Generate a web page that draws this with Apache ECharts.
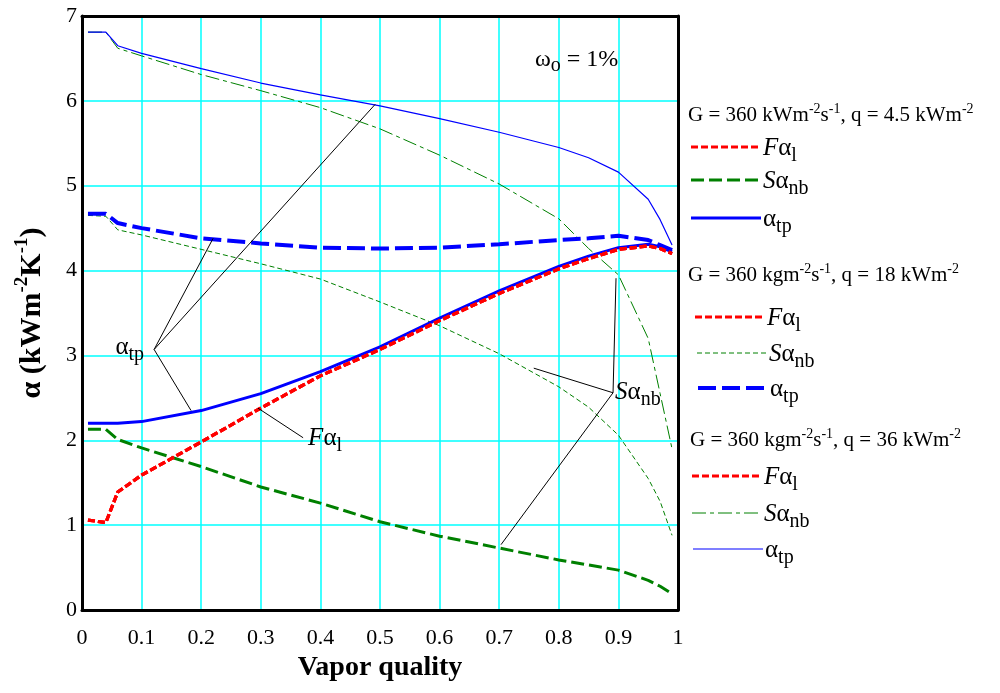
<!DOCTYPE html>
<html><head><meta charset="utf-8">
<script src="https://cdn.jsdelivr.net/npm/echarts@6/dist/echarts.min.js"></script>
<style>html,body{margin:0;padding:0;background:#fff}#c{width:1000px;height:693px}</style>
</head><body><div id="c"></div>
<script>
// ---------------- data ----------------
const quality = [0.01, 0.04, 0.06, 0.1, 0.2, 0.3, 0.4, 0.5, 0.6, 0.7, 0.8, 0.85, 0.9, 0.95, 0.97, 0.99];
// F*alpha_l (same for all three heat fluxes)
const F_al   = [1.06, 1.03, 1.39, 1.59, 1.98, 2.38, 2.76, 3.07, 3.41, 3.73, 4.02, 4.14, 4.25, 4.29, 4.26, 4.20];
// q = 4.5 kW/m2
const S_nb_45 = [2.13, 2.13, 2.01, 1.91, 1.69, 1.45, 1.26, 1.04, 0.87, 0.73, 0.59, 0.53, 0.47, 0.35, 0.28, 0.19];
const a_tp_45 = [2.20, 2.20, 2.20, 2.22, 2.35, 2.55, 2.81, 3.10, 3.44, 3.76, 4.05, 4.17, 4.27, 4.31, 4.28, 4.22];
// q = 18 kW/m2
const S_nb_18 = [4.65, 4.64, 4.48, 4.42, 4.25, 4.08, 3.90, 3.63, 3.35, 3.02, 2.63, 2.39, 2.06, 1.55, 1.28, 0.88];
const a_tp_18 = [4.67, 4.67, 4.56, 4.50, 4.38, 4.32, 4.27, 4.26, 4.27, 4.31, 4.36, 4.38, 4.41, 4.36, 4.30, 4.24];
// q = 36 kW/m2
const S_nb_36 = [6.81, 6.81, 6.62, 6.53, 6.31, 6.12, 5.92, 5.67, 5.36, 5.02, 4.61, 4.26, 3.95, 3.20, 2.55, 1.90];
const a_tp_36 = [6.81, 6.81, 6.65, 6.56, 6.38, 6.21, 6.07, 5.94, 5.79, 5.63, 5.45, 5.33, 5.16, 4.84, 4.60, 4.30];

// annotation leader lines (data coordinates)
const tpOrigin = [0.121, 3.07];
const tpTargets = [[0.22, 4.38], [0.492, 5.96], [0.183, 2.35]];
const fFrom = [0.295, 2.38], fTo = [0.371, 2.03];
const sOrigin = [0.891, 2.56];
const sTargets = [[0.758, 2.85], [0.896, 3.91], [0.703, 0.77]];
const omegaPos = [0.76, 6.46];

// --------------- styles ---------------
const SERIF = '"Liberation Serif","Times New Roman",serif';
const RED = '#ff0000', GREEN = '#008000', BLUE = '#0000ff';
const richLbl = {
  i: {fontFamily: SERIF, fontSize: 25, fontStyle: 'italic', color: '#000', lineHeight: 30, verticalAlign: 'top'},
  m: {fontFamily: SERIF, fontSize: 25, color: '#000', lineHeight: 30, verticalAlign: 'top'},
  s: {fontFamily: SERIF, fontSize: 20, color: '#000', lineHeight: 23, verticalAlign: 'bottom'},
  w: {fontFamily: SERIF, fontSize: 24, color: '#000', lineHeight: 28, verticalAlign: 'top'},
  ws: {fontFamily: SERIF, fontSize: 20, color: '#000', lineHeight: 12, verticalAlign: 'bottom'}
};
const richHead = {
  h: {fontFamily: SERIF, fontSize: 21, color: '#000', lineHeight: 24, verticalAlign: 'bottom'},
  u: {fontFamily: SERIF, fontSize: 14, color: '#000', lineHeight: 20, verticalAlign: 'top'}
};
const TXT_F = '{i|F}{m|α}{s|l}';
const TXT_S = '{i|S}{m|α}{s|nb}';
const TXT_A = '{m|α}{s|tp}';

const styleF   = {color: RED, width: 3.2, type: [7, 3]};
const styleS45 = {color: GREEN, width: 3, type: [13, 5]};
const styleA45 = {color: BLUE, width: 3, type: 'solid'};
const styleS18 = {color: GREEN, width: 1, type: [5, 3]};
const styleA18 = {color: BLUE, width: 4, type: [18, 6]};
const styleS36 = {color: GREEN, width: 1, type: [14, 4, 4, 4]};
const styleA36 = {color: BLUE, width: 1.2, type: 'solid'};

function pts(ys) { return quality.map((x, i) => [x, ys[i]]); }
function lineSeries(name, ys, ls) {
  return {name, type: 'line', data: pts(ys), showSymbol: false, symbol: 'none',
    lineStyle: {color: ls.color, width: ls.width, type: ls.type}, itemStyle: {color: ls.color},
    animation: false, silent: true, z: 3};
}

const series = [
  lineSeries('S36', S_nb_36, styleS36),
  lineSeries('S18', S_nb_18, styleS18),
  lineSeries('S45', S_nb_45, styleS45),
  lineSeries('A36', a_tp_36, styleA36),
  lineSeries('A18', a_tp_18, styleA18),
  lineSeries('A45', a_tp_45, styleA45),
  lineSeries('F45', F_al, styleF),
  lineSeries('F18', F_al, styleF),
  lineSeries('F36', F_al, styleF)
];

// annotations
const mlData = [];
tpTargets.forEach(t => mlData.push([{coord: tpOrigin}, {coord: t}]));
mlData.push([{coord: fFrom}, {coord: fTo}]);
sTargets.forEach(t => mlData.push([{coord: sOrigin}, {coord: t}]));
series.push({
  name: 'annot', type: 'line', data: [], silent: true, animation: false, z: 4,
  markLine: {silent: true, animation: false, symbol: ['none', 'none'],
    lineStyle: {color: '#000', width: 1, type: 'solid'}, label: {show: false}, data: mlData},
  markPoint: {silent: true, animation: false, symbol: 'circle', symbolSize: 0,
    label: {show: true, rich: richLbl},
    data: [
      {coord: tpOrigin, label: {formatter: TXT_A, position: 'left', distance: 10}},
      {coord: fTo, label: {formatter: TXT_F, position: 'right', distance: 5, offset: [0, 3]}},
      {coord: sOrigin, label: {formatter: TXT_S, position: 'right', distance: 2, offset: [0, 2]}},
      {coord: omegaPos, label: {formatter: '{w|ω}{ws|o}{w| = 1%}', position: 'right', distance: 0}}
    ]}
});

// legend (graphic)
const legendGroups = [
  {title: '{h|G = 360 kWm}{u|-2}{h|s}{u|-1}{h|, q = 4.5 kWm}{u|-2}', tx: 688, ty: 114,
   rows: [{ls: styleF, txt: TXT_F, y: 147, x: 691}, {ls: styleS45, txt: TXT_S, y: 180, x: 691}, {ls: styleA45, txt: TXT_A, y: 218, x: 691}]},
  {title: '{h|G = 360 kgm}{u|-2}{h|s}{u|-1}{h|, q = 18 kWm}{u|-2}', tx: 688, ty: 274,
   rows: [{ls: styleF, txt: TXT_F, y: 317, x: 695}, {ls: styleS18, txt: TXT_S, y: 353, x: 697}, {ls: styleA18, txt: TXT_A, y: 388, x: 698}]},
  {title: '{h|G = 360 kgm}{u|-2}{h|s}{u|-1}{h|, q = 36 kWm}{u|-2}', tx: 690, ty: 439,
   rows: [{ls: styleF, txt: TXT_F, y: 476, x: 692}, {ls: styleS36, txt: TXT_S, y: 513, x: 692}, {ls: styleA36, txt: TXT_A, y: 549, x: 693}]}
];
const graphics = [];
legendGroups.forEach(g => {
  graphics.push({type: 'text', x: g.tx, y: g.ty, silent: true,
    style: {text: g.title, rich: richHead, verticalAlign: 'middle', align: 'left'}});
  g.rows.forEach(r => {
    graphics.push({type: 'line', silent: true, shape: {x1: r.x, y1: r.y, x2: r.x + 70, y2: r.y},
      style: {stroke: r.ls.color, lineWidth: r.ls.width, lineDash: Array.isArray(r.ls.type) ? r.ls.type : null}});
    graphics.push({type: 'text', x: r.x + 72, y: r.y + 4, silent: true,
      style: {text: r.txt, rich: richLbl, verticalAlign: 'middle', align: 'left'}});
  });
});

const axisLbl = {color: '#000', fontFamily: SERIF, fontSize: 22};
const option = {
  backgroundColor: '#fff',
  animation: false,
  grid: {left: 82, right: 322, top: 16, bottom: 83, containLabel: false},
  xAxis: [{
    type: 'value', min: 0, max: 1, interval: 0.1, position: 'bottom',
    name: 'Vapor quality', nameLocation: 'middle', nameGap: 44,
    nameTextStyle: {color: '#000', fontFamily: SERIF, fontSize: 28, fontWeight: 'bold'},
    axisLine: {show: true, onZero: false, lineStyle: {color: '#000', width: 3}},
    axisTick: {show: false},
    axisLabel: Object.assign({margin: 17}, axisLbl),
    splitLine: {show: true, showMinLine: false, showMaxLine: false, lineStyle: {color: '#00ffff', width: 1.5}}
  }, {
    type: 'value', min: 0, max: 1, position: 'top', z: 5,
    axisLine: {show: true, onZero: false, lineStyle: {color: '#000', width: 3}},
    axisTick: {show: false}, axisLabel: {show: false}, splitLine: {show: false}
  }],
  yAxis: [{
    type: 'value', min: 0, max: 7, interval: 1, position: 'left',
    name: '{b|α (kWm}{p|-2}{b|K}{p|-1}{b|)}', nameLocation: 'middle', nameGap: 35, nameRotate: 90,
    nameTextStyle: {color: '#000', fontFamily: SERIF, fontSize: 30, fontWeight: 'bold',
      rich: {
        b: {fontFamily: SERIF, fontSize: 30, fontWeight: 'bold', color: '#000', lineHeight: 34, verticalAlign: 'bottom'},
        p: {fontFamily: SERIF, fontSize: 19, fontWeight: 'bold', color: '#000', lineHeight: 27, verticalAlign: 'top'}
      }},
    axisLine: {show: true, onZero: false, lineStyle: {color: '#000', width: 3}},
    axisTick: {show: false},
    axisLabel: Object.assign({margin: 5}, axisLbl),
    splitLine: {show: true, showMinLine: false, showMaxLine: false, lineStyle: {color: '#00ffff', width: 1.5}}
  }, {
    type: 'value', min: 0, max: 7, position: 'right', z: 5,
    axisLine: {show: true, onZero: false, lineStyle: {color: '#000', width: 3}},
    axisTick: {show: false}, axisLabel: {show: false}, splitLine: {show: false}
  }],
  series: series,
  graphic: graphics
};
const chart = echarts.init(document.getElementById('c'), null, {renderer: 'canvas'});
chart.setOption(option);
</script>
</body></html>
